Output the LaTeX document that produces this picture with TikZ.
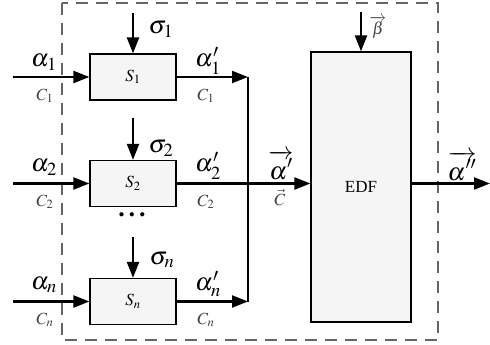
\documentclass[tikz,border=0pt]{standalone}
\usepackage{mathptmx}
\usepackage{fontspec}
\setmainfont{Liberation Serif}
\usetikzlibrary{arrows.meta}
\begin{document}
\begin{tikzpicture}[x=1pt,y=-1pt,
  blk/.style={draw, fill=gray!8, line width=1.2pt, inner sep=0pt, minimum width=86pt, minimum height=46pt, font=\fontsize{17}{19}\selectfont},
  conn/.style={line width=2.2pt, -{Triangle[length=16pt,width=12pt]}},
  wire/.style={line width=2.2pt},
  big/.style={inner sep=0pt, font=\fontsize{25}{27}\selectfont},
  small/.style={inner sep=0pt, font=\fontsize{17}{19}\selectfont, text=black!75},
  frame/.style={draw=black!60, line width=1.5pt, dash pattern=on 12pt off 8pt}
]
\useasboundingbox (0,0) rectangle (490,345);
\draw[frame] (62,3) rectangle (438,340);

\node[blk] (s1) at (133,77) {$S_1$};
\node[blk] (s2) at (133,183.5) {$S_2$};
\node[blk] (sn) at (133,301.5) {$S_n$};
\node[blk, minimum width=100pt, minimum height=270pt, font=\fontsize{17}{19}\selectfont] (edf) at (361,187) {EDF};

\coordinate (i1) at (13,77);
\coordinate (i2) at (13,183.5);
\coordinate (in) at (13,301.5);
\coordinate (b1) at (248,77);
\coordinate (bn) at (248,301.5);
\coordinate (g1) at (133,13);
\coordinate (g2) at (133,118);
\coordinate (gn) at (133,237);
\coordinate (gb) at (361,12);
\coordinate (out) at (490,183.5);

\draw[conn] (i1) -- (s1);
\draw[conn] (i2) -- (s2);
\draw[conn] (in) -- (sn);
\draw[conn] (s1) -- (b1);
\draw[conn] (sn) -- (bn);
\draw[wire] (b1) -- (bn);
\draw[conn] (s2.east) -- (s2.east -| edf.west);
\draw[conn] (s2.east -| edf.east) -- (out);
\draw[conn] (g1) -- (s1.north);
\draw[conn] (g2) -- (s2.north);
\draw[conn] (gn) -- (sn.north);
\draw[conn] (gb) -- (edf.north);

\node[big] (a1) at (44,62) {$\alpha_{1}$};
\node[big] (a2) at (44,167) {$\alpha_{2}$};
\node[big] (an) at (44,285) {$\alpha_{n}$};
\node[small] (c1) at (45,96) {$C_1$};
\node[small] (c2) at (45,202) {$C_2$};
\node[small] (cn) at (45,320) {$C_n$};

\node[big] (p1) at (208,61) {$\alpha_{1}'$};
\node[big] (p2) at (208,166) {$\alpha_{2}'$};
\node[big] (pn) at (208,284) {$\alpha_{n}'$};
\node[small] (d1) at (206,96) {$C_1$};
\node[small] (d2) at (206,202) {$C_2$};
\node[small] (dn) at (206,320) {$C_n$};

\node[big] (sg1) at (161,29) {$\sigma_{1}$};
\node[big] (sg2) at (161,148) {$\sigma_{2}$};
\node[big] (sgn) at (162,260) {$\sigma_{n}$};
\node[inner sep=0pt, font=\fontsize{26}{28}\selectfont\bfseries] (dots) at (132,215) {.\hspace{4pt}.\hspace{4pt}.};

\node[big] (av) at (281,165) {$\overrightarrow{\alpha'}$};
\node[small] (cv) at (280,198) {$\vec{C}$};
\node[small] (bv) at (378,27) {$\overrightarrow{\beta}$};
\node[big] (ao) at (462,166) {$\overrightarrow{\alpha''}$};
\end{tikzpicture}
\end{document}
